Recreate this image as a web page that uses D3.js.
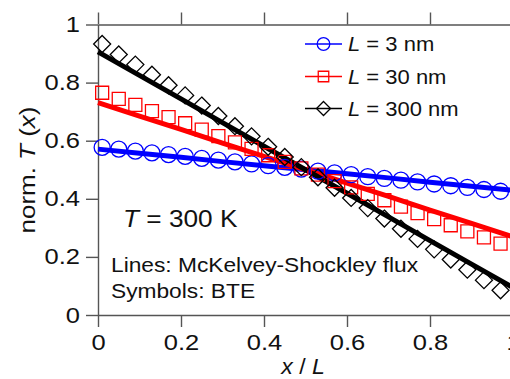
<!DOCTYPE html>
<html>
<head>
<meta charset="utf-8">
<script src="https://cdn.jsdelivr.net/npm/d3@7"></script>
<style>
  html, body { margin: 0; padding: 0; background: #fff; }
  svg { display: block; font-family: "Liberation Sans", Arial, Helvetica, sans-serif; }
</style>
</head>
<body>
<svg id="chart" width="510" height="379"></svg>
<script>
// ---- data ----
const xTicks = [0, 0.2, 0.4, 0.6, 0.8, 1];
const yTicks = [0, 0.2, 0.4, 0.6, 0.8, 1];
const xTickLabels = ["0", "0.2", "0.4", "0.6", "0.8", "1"];
const yTickLabels = ["0", "0.2", "0.4", "0.6", "0.8", "1"];

const seriesNames = ["3 nm", "30 nm", "300 nm"];
const seriesColors = ["#0000ff", "#ff0000", "#000000"];
const seriesSymbols = ["circle", "square", "diamond"];

// BTE symbols
const symX = [0.01, 0.05, 0.09, 0.13, 0.17, 0.21, 0.25, 0.29, 0.33, 0.37, 0.41, 0.45, 0.49,
              0.53, 0.57, 0.61, 0.65, 0.69, 0.73, 0.77, 0.81, 0.85, 0.89, 0.93, 0.97];
const bte3 = [0.577, 0.571, 0.564, 0.558, 0.552, 0.546, 0.539, 0.533, 0.527, 0.520, 0.514, 0.508, 0.502,
              0.495, 0.489, 0.483, 0.476, 0.470, 0.464, 0.458, 0.451, 0.445, 0.439, 0.432, 0.426];
const bte30 = [0.765, 0.744, 0.723, 0.702, 0.681, 0.660, 0.638, 0.616, 0.594, 0.572, 0.550, 0.527, 0.505,
               0.483, 0.461, 0.439, 0.417, 0.395, 0.373, 0.351, 0.330, 0.309, 0.288, 0.267, 0.246];
const bte300 = [0.933, 0.897, 0.862, 0.827, 0.791, 0.756, 0.721, 0.685, 0.650, 0.615, 0.579, 0.544, 0.509,
                0.474, 0.438, 0.403, 0.368, 0.332, 0.297, 0.262, 0.226, 0.191, 0.156, 0.120, 0.085];

// McKelvey-Shockley flux lines
const lineX = [0, 0.1, 0.2, 0.3, 0.4, 0.5, 0.6, 0.7, 0.8, 0.9, 1.0];
const ms3 = [0.571, 0.557, 0.543, 0.528, 0.514, 0.500, 0.486, 0.472, 0.457, 0.443, 0.429];
const ms30 = [0.731, 0.685, 0.639, 0.592, 0.546, 0.500, 0.454, 0.408, 0.361, 0.315, 0.269];
const ms300 = [0.906, 0.825, 0.744, 0.662, 0.581, 0.500, 0.419, 0.338, 0.256, 0.175, 0.094];

// ---- layout ----
const svg = d3.select("#chart");
const mLeft = 98, mTop = 24.5, mRight = 513, mBottom = 315;
const x = d3.scaleLinear().domain([0, 1]).range([mLeft, mRight]);
const y = d3.scaleLinear().domain([0, 1]).range([mBottom, mTop]);
const axisColor = "#555";
const tickLen = 12;
const tickStretch = 1.16;   // the reference glyphs are horizontally wide

function styleAxis(g) {
  g.selectAll("path.domain").attr("stroke", axisColor).attr("stroke-width", 1.4);
  g.selectAll(".tick line").attr("stroke", axisColor).attr("stroke-width", 1.4);
  g.selectAll(".tick text").attr("fill", "#111")
    .style("font-family", '"Liberation Sans", Arial, Helvetica, sans-serif')
    .style("font-size", "22px");
}

svg.append("g").attr("transform", `translate(0,${mBottom})`)
  .call(d3.axisBottom(x).tickValues(xTicks).tickSize(tickLen).tickSizeOuter(0).tickPadding(6)
        .tickFormat((d, i) => xTickLabels[i]))
  .call(styleAxis)
  .call(g => g.selectAll(".tick text").attr("dy", "0.75em").attr("y", 19)
        .attr("transform", `scale(${tickStretch},1)`));

svg.append("g").attr("transform", `translate(0,${mTop})`)
  .call(d3.axisTop(x).tickValues(xTicks).tickSize(tickLen).tickSizeOuter(0).tickFormat(""))
  .call(styleAxis);

svg.append("g").attr("transform", `translate(${mLeft},0)`)
  .call(d3.axisLeft(y).tickValues(yTicks).tickSize(tickLen).tickSizeOuter(0).tickPadding(6)
        .tickFormat((d, i) => yTickLabels[i]))
  .call(styleAxis)
  .call(g => g.selectAll(".tick text").attr("x", -18 / tickStretch)
        .attr("transform", `scale(${tickStretch},1)`));

svg.append("g").attr("transform", `translate(${mRight},0)`)
  .call(d3.axisRight(y).tickValues(yTicks).tickSize(tickLen).tickSizeOuter(0).tickFormat(""))
  .call(styleAxis);

// ---- lines ----
const lineGen = d3.line().x(d => x(d[0])).y(d => y(d[1]));
const msSeries = [ms3, ms30, ms300];
const bteSeries = [bte3, bte30, bte300];

const plot = svg.append("g");
msSeries.forEach((vals, si) => {
  plot.append("path")
    .datum(lineX.map((xv, i) => [xv, vals[i]]))
    .attr("d", lineGen)
    .attr("fill", "none")
    .attr("stroke", seriesColors[si])
    .attr("stroke-width", 5);
});

// ---- symbols ----
const symbolPaths = {
  circle: d3.symbol().type(d3.symbolCircle).size(Math.PI * 8 * 8),
  square: d3.symbol().type(d3.symbolSquare).size(13 * 13),
  diamond: () => "M0,-8.5L8.5,0L0,8.5L-8.5,0Z"
};
bteSeries.forEach((vals, si) => {
  plot.append("g").selectAll("path")
    .data(symX.map((xv, i) => [xv, vals[i]]))
    .join("path")
    .attr("transform", d => `translate(${x(d[0])},${y(d[1])})`)
    .attr("d", symbolPaths[seriesSymbols[si]])
    .attr("fill", "none")
    .attr("stroke", seriesColors[si])
    .attr("stroke-width", 1.3);
});

// helper: text placed at (tx,ty), stretched horizontally by sx
function stretchedText(tx, ty, sx, size, anchor) {
  return svg.append("text")
    .attr("transform", `translate(${tx},${ty}) scale(${sx},1)`)
    .attr("text-anchor", anchor || "start")
    .attr("fill", "#111").style("font-size", size + "px");
}

// ---- legend ----
const legendSymbols = {
  circle: d3.symbol().type(d3.symbolCircle).size(Math.PI * 6.3 * 6.3),
  square: d3.symbol().type(d3.symbolSquare).size(10.5 * 10.5),
  diamond: () => "M0,-7L7,0L0,7L-7,0Z"
};
const legendRowY = [44, 76.5, 108.5];
seriesNames.forEach((name, i) => {
  const g = svg.append("g").attr("transform", `translate(0,${legendRowY[i]})`);
  g.append("line").attr("x1", 305).attr("x2", 342).attr("y1", 0).attr("y2", 0)
    .attr("stroke", seriesColors[i]).attr("stroke-width", 1.4);
  g.append("path").attr("transform", "translate(323.5,0)")
    .attr("d", legendSymbols[seriesSymbols[i]])
    .attr("fill", "none").attr("stroke", seriesColors[i]).attr("stroke-width", 1.3);
  const t = stretchedText(348, legendRowY[i] + 7, 1.1, 20);
  t.append("tspan").style("font-style", "italic").text("L");
  t.append("tspan").text(" = " + name);
});

// ---- annotations ----
const tt = stretchedText(123, 227, 1.14, 23);
tt.append("tspan").style("font-style", "italic").text("T");
tt.append("tspan").text(" = 300 K");

stretchedText(111, 272, 1.11, 20.5).text("Lines: McKelvey-Shockley flux");
stretchedText(111, 298, 1.11, 20.5).text("Symbols: BTE");

// ---- axis titles ----
const xt = stretchedText(303, 374, 1.05, 22, "middle");
xt.append("tspan").style("font-style", "italic").text("x");
xt.append("tspan").text(" / ");
xt.append("tspan").style("font-style", "italic").text("L");

const yt = svg.append("text").attr("transform", "translate(35,170) rotate(-90) scale(1.18,1)")
  .attr("text-anchor", "middle").attr("fill", "#111").style("font-size", "22px");
yt.append("tspan").text("norm. ");
yt.append("tspan").style("font-style", "italic").text("T");
yt.append("tspan").text(" (");
yt.append("tspan").style("font-style", "italic").text("x");
yt.append("tspan").text(")");
</script>
</body>
</html>
